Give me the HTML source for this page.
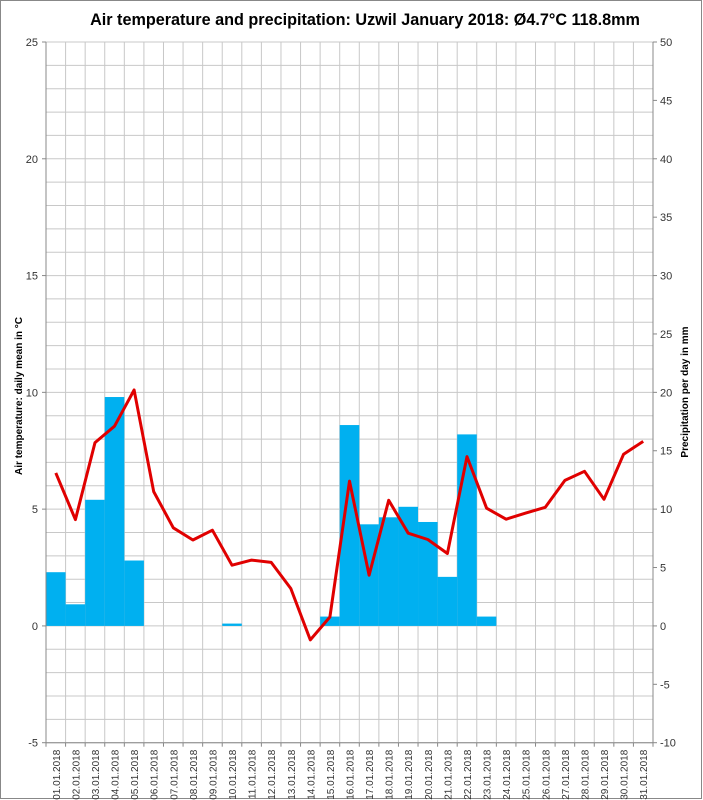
<!DOCTYPE html>
<html><head><meta charset="utf-8"><style>
html,body{margin:0;padding:0;background:#fff}
svg{display:block;font-family:"Liberation Sans",sans-serif}
</style></head><body>
<svg width="703" height="800" viewBox="0 0 703 800" xmlns="http://www.w3.org/2000/svg">
<rect x="0.5" y="0.5" width="701" height="798" fill="#fff" stroke="#888"/>
<text x="365" y="25" text-anchor="middle" font-size="16.2" font-weight="bold">Air temperature and precipitation: Uzwil January 2018: Ø4.7°C 118.8mm</text>
<g id="grid" stroke="#c8c8c8" stroke-width="1"></g>
<g id="bars" fill="#00b0f0"></g>
<g id="axes" stroke="#888" stroke-width="1"></g>
<polyline id="line" fill="none" stroke="#e00000" stroke-width="3" stroke-linejoin="round"/>
<g id="labels" font-size="11" fill="#333"></g>
<text transform="translate(22,396) rotate(-90)" text-anchor="middle" font-size="10" font-weight="bold">Air temperature: daily mean in °C</text>
<text transform="translate(688,392) rotate(-90)" text-anchor="middle" font-size="10" font-weight="bold">Precipitation per day in mm</text>
</svg>
<script>
const L=46,R=653,T=42,B=742.7,n=31,dw=(R-L)/n,pu=(B-T)/30;
const ty=v=>T+(25-v)*pu, py=v=>T+(50-v)*pu/2;
const temps=[6.55,4.55,7.85,8.55,10.1,5.75,4.2,3.68,4.1,2.6,2.82,2.72,1.6,-0.6,0.38,6.2,2.17,5.38,3.97,3.7,3.1,7.25,5.04,4.57,4.83,5.08,6.23,6.62,5.42,7.35,7.9];
const pr={1:4.6,2:1.85,3:10.8,4:19.6,5:5.6,10:0.2,15:0.8,16:17.2,17:8.7,18:9.3,19:10.2,20:8.9,21:4.2,22:16.4,23:0.8};
const NS="http://www.w3.org/2000/svg";
function el(p,t,a,txt){const e=document.createElementNS(NS,t);for(const k in a)e.setAttribute(k,a[k]);if(txt!=null)e.textContent=txt;document.getElementById(p).appendChild(e);}
for(let v=-5;v<=25;v++)el("grid","line",{x1:L,x2:R,y1:ty(v),y2:ty(v)});
for(let i=0;i<=n;i++)el("grid","line",{x1:L+i*dw,x2:L+i*dw,y1:T,y2:B});
for(const d in pr){const x=L+(d-1)*dw;el("bars","rect",{x:x,y:py(pr[d]),width:dw,height:py(0)-py(pr[d])});}
el("axes","line",{x1:L,x2:L,y1:T,y2:B});el("axes","line",{x1:R,x2:R,y1:T,y2:B});el("axes","line",{x1:L,x2:R,y1:B,y2:B});
for(let v=-5;v<=25;v+=5){el("axes","line",{x1:L-4,x2:L,y1:ty(v),y2:ty(v)});el("labels","text",{x:L-8,y:ty(v)+4,"text-anchor":"end"},v);}
for(let v=-10;v<=50;v+=5){el("axes","line",{x1:R,x2:R+4,y1:py(v),y2:py(v)});el("labels","text",{x:R+7,y:py(v)+4},v);}
for(let i=0;i<=n;i++)el("axes","line",{x1:L+i*dw,x2:L+i*dw,y1:B,y2:B+4});
for(let i=0;i<n;i++){const x=L+(i+0.5)*dw+4;const d=String(i+1).padStart(2,"0");el("labels","text",{transform:`translate(${x},${B+7}) rotate(-90)`,"text-anchor":"end","font-size":"10"},d+".01.2018");}
document.getElementById("line").setAttribute("points",temps.map((t,i)=>(L+(i+0.5)*dw).toFixed(1)+","+ty(t).toFixed(1)).join(" "));
</script>
</body></html>
